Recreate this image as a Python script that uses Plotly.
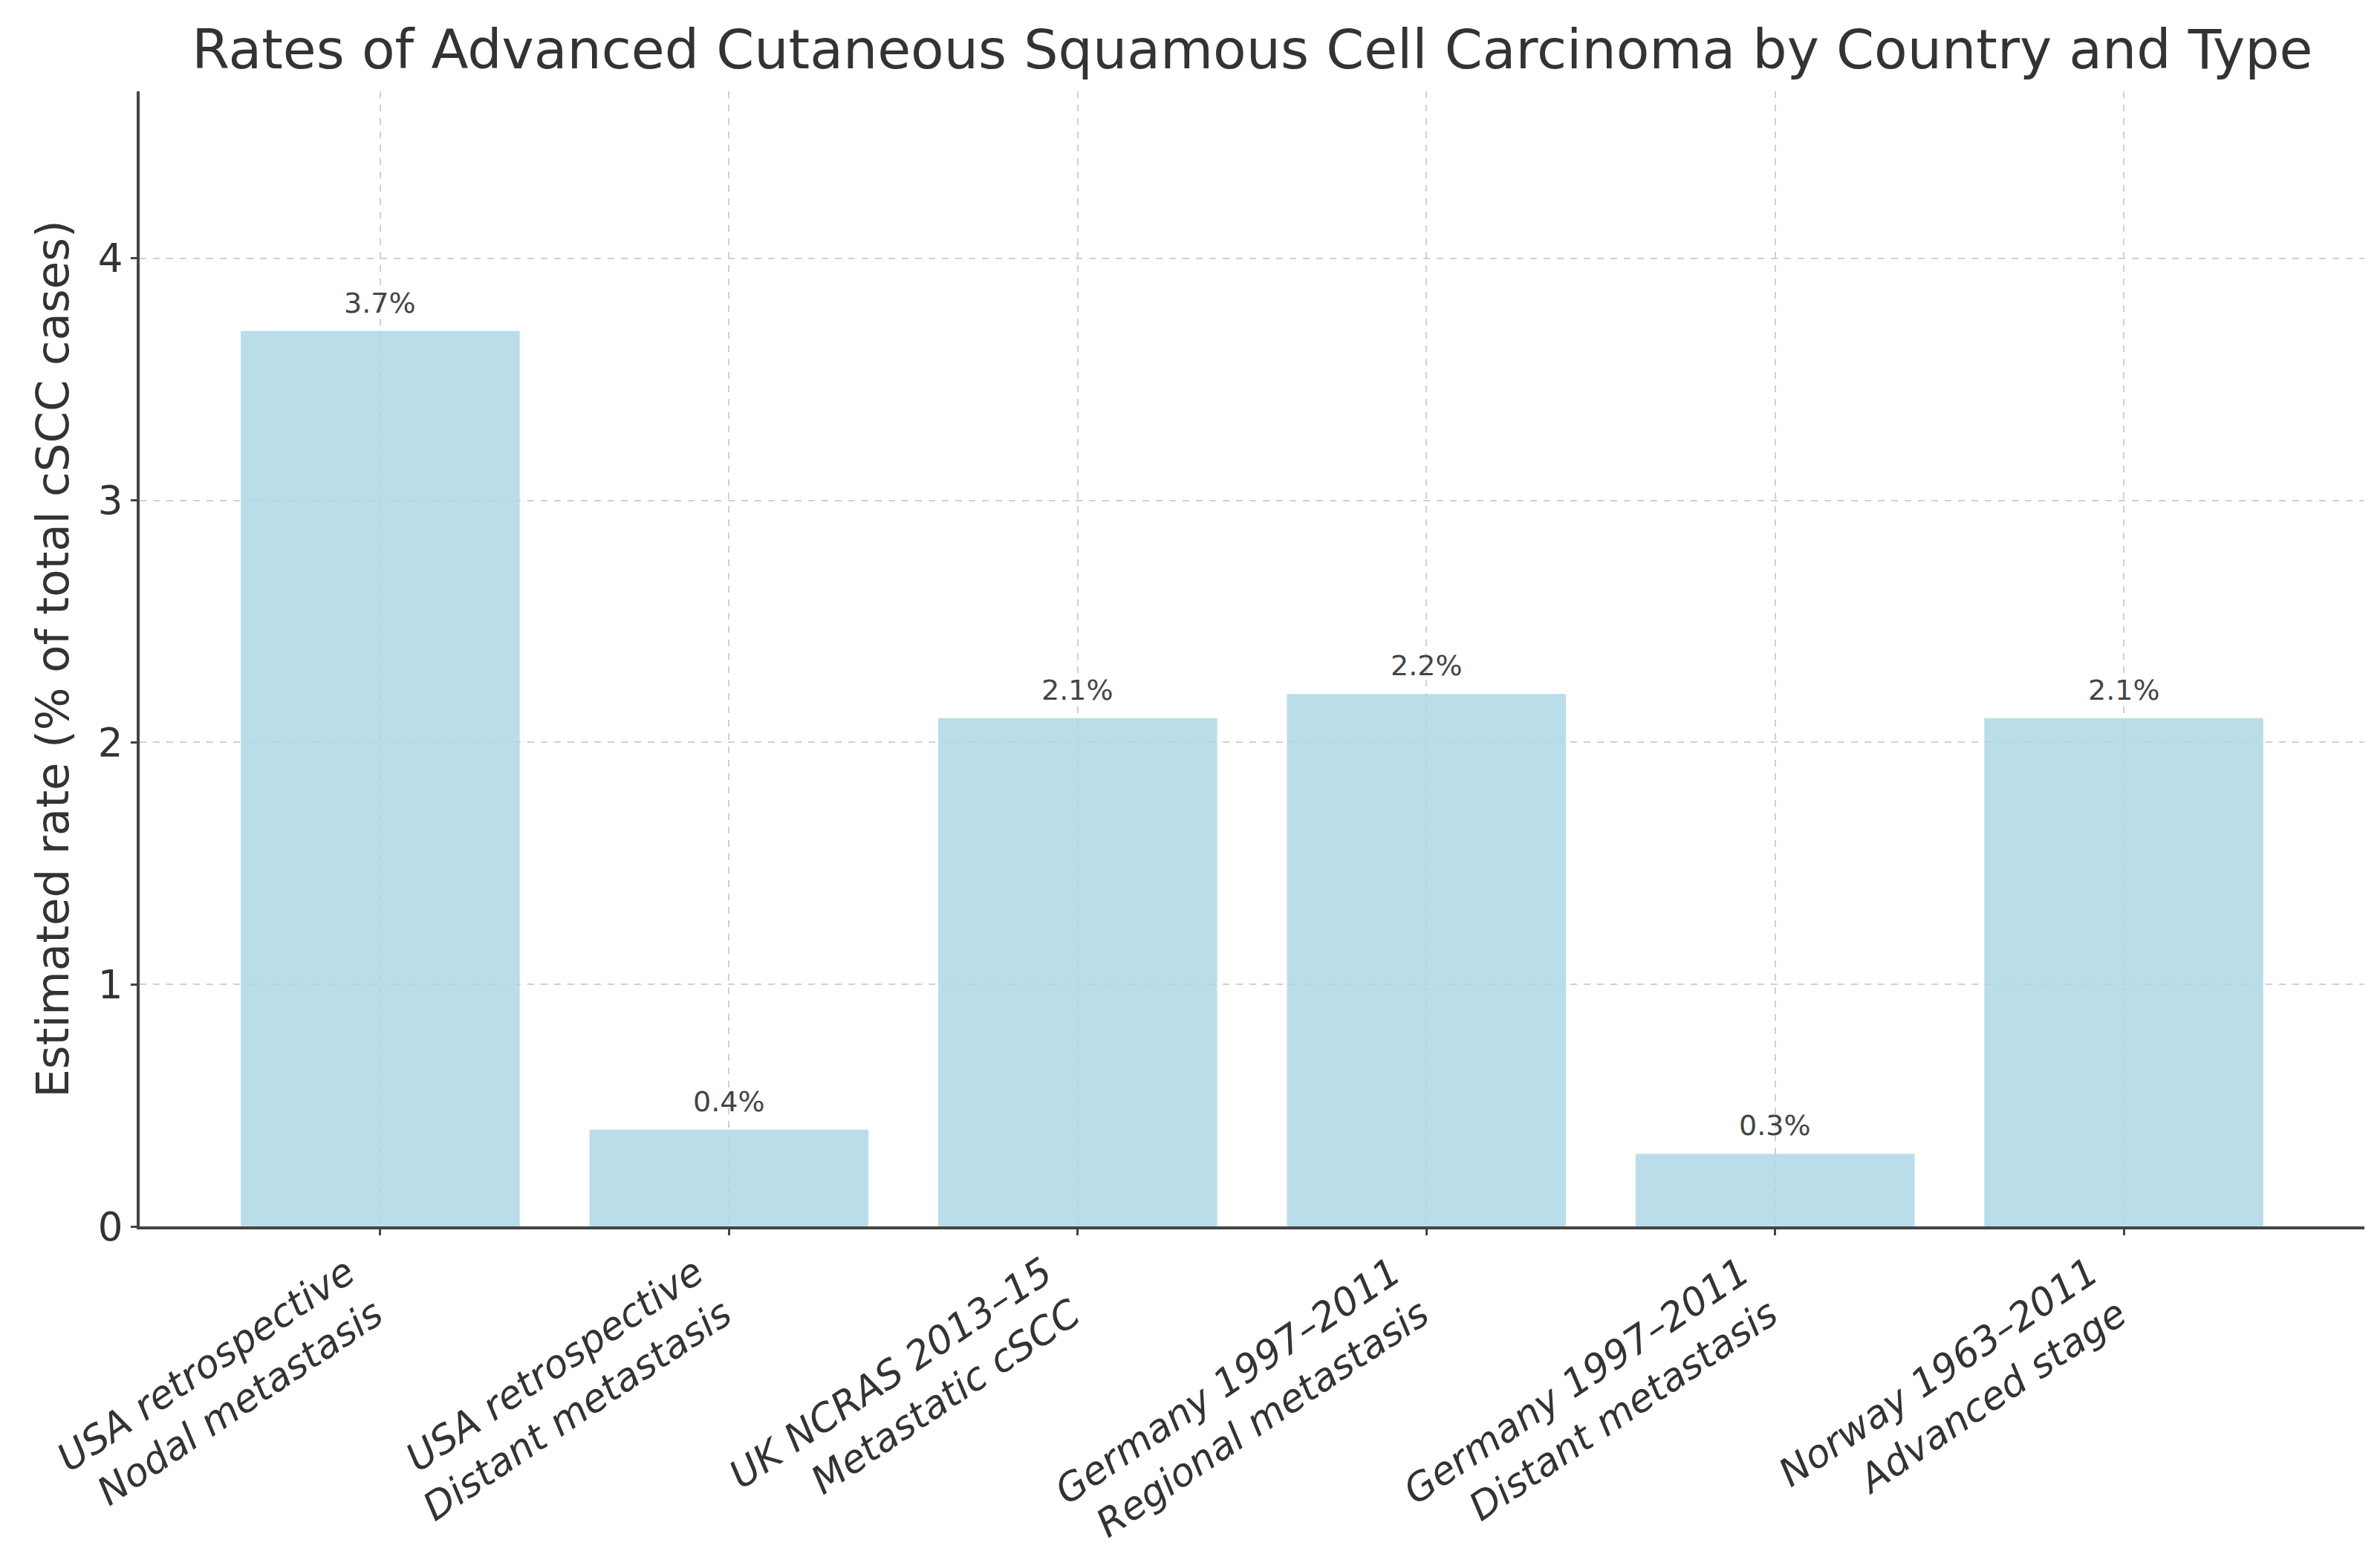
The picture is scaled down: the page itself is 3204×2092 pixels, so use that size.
import plotly.graph_objects as go

categories = [
    "USA retrospective<br>Nodal metastasis",
    "USA retrospective<br>Distant metastasis",
    "UK NCRAS 2013–15<br>Metastatic cSCC",
    "Germany 1997–2011<br>Regional metastasis",
    "Germany 1997–2011<br>Distant metastasis",
    "Norway 1963–2011<br>Advanced stage",
]
rates = [3.7, 0.4, 2.1, 2.2, 0.3, 2.1]
labels = [f"{v}%" for v in rates]
yticks = [0, 1, 2, 3, 4]

FONT = "DejaVu Sans"
x_idx = list(range(len(categories)))

fig = go.Figure()
fig.add_trace(go.Bar(
    x=x_idx, y=rates, width=0.8,
    marker=dict(color="rgba(173,216,230,0.85)", line=dict(width=0)),
    hoverinfo="skip",
))

for xi, v, lab in zip(x_idx, rates, labels):
    fig.add_annotation(
        x=xi, y=v, text=lab, showarrow=False, yanchor="bottom", yshift=14,
        font=dict(family=FONT, size=38, color="#444444"),
    )

fig.update_layout(
    width=3204, height=2092,
    paper_bgcolor="white", plot_bgcolor="white",
    margin=dict(l=188, r=21, t=123, b=441, autoexpand=False),
    showlegend=False,
    title=dict(
        text="Rates of Advanced Cutaneous Squamous Cell Carcinoma by Country and Type",
        x=0.5262, xanchor="center", y=1 - 66 / 2092, yanchor="middle",
        font=dict(family=FONT, size=73, color="#333333"),
    ),
    font=dict(family=FONT, color="#333333"),
)

fig.update_xaxes(
    automargin=False,
    range=[-0.69, 5.69],
    tickmode="array", tickvals=x_idx, ticktext=categories,
    tickangle=-34,
    ticklabelshift=-45,
    tickfont=dict(family=FONT, size=52, color="#333333", style="italic"),
    showgrid=True, gridcolor="#d0d0d0", griddash="dash", gridwidth=2,
    showline=True, linecolor="#444444", linewidth=4,
    ticks="outside", ticklen=8, tickwidth=3, tickcolor="#444444",
    zeroline=False,
)
fig.update_yaxes(
    automargin=False,
    range=[0, 4.69],
    tickmode="array", tickvals=yticks, ticktext=[str(t) for t in yticks],
    tickfont=dict(family=FONT, size=53, color="#333333"),
    title=dict(text="Estimated rate (% of total cSCC cases)",
               font=dict(family=FONT, size=61, color="#333333"), standoff=20),
    showgrid=True, gridcolor="#d0d0d0", griddash="dash", gridwidth=2,
    showline=True, linecolor="#444444", linewidth=4,
    ticks="outside", ticklen=8, tickwidth=3, tickcolor="#444444",
    zeroline=False,
)

fig.write_html("out.html")
